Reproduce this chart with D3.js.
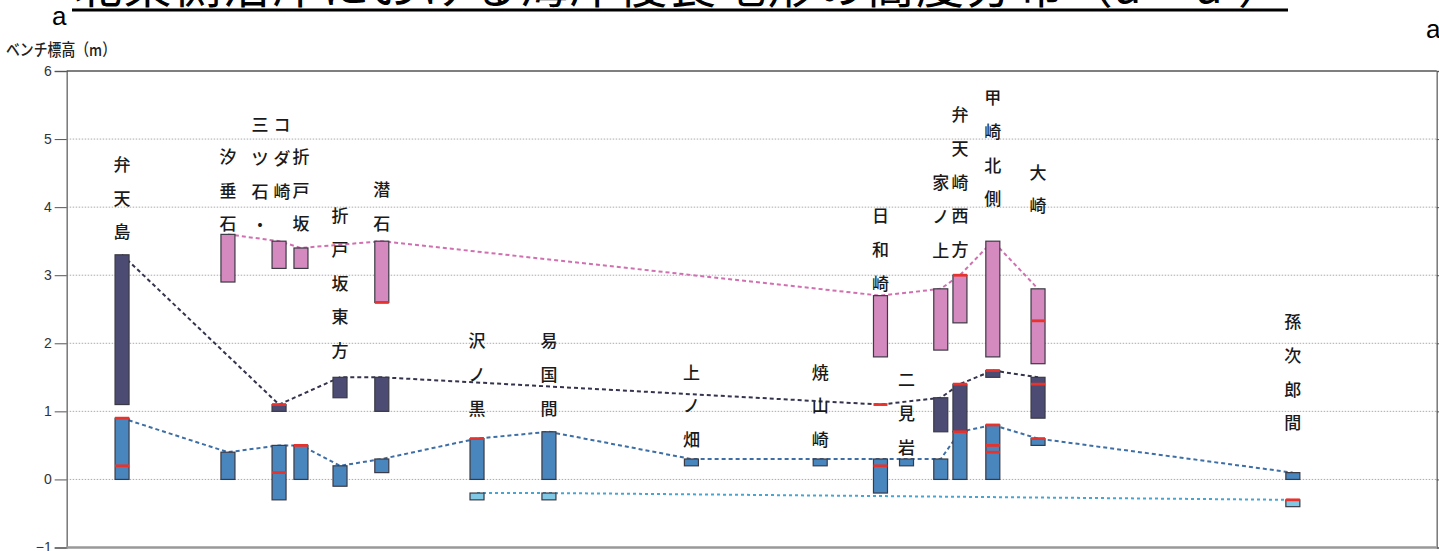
<!DOCTYPE html>
<html>
<head>
<meta charset="utf-8">
<script src="https://cdn.jsdelivr.net/npm/d3@7"></script>
<style>
  body { margin: 0; background: #fff; overflow: hidden; }
  svg { display: block; }
</style>
</head>
<body>
<div id="chart"></div>
<script>
// sites along the coast (relative position 0-100)
const sites = ["弁天島", "汐垂石", "三ツ石・コダ崎", "折戸坂", "折戸坂東方", "潜石", "沢ノ黒", "易国間", "上ノ畑",
    "焼山崎", "日和崎", "二見岩", "家ノ上", "弁天崎西方", "甲崎北側", "大崎", "孫次郎間"];
const sitePos = [4.04, 11.77, 15.5, 17.1, 19.95, 23.0, 29.95, 35.2, 45.6, 55.0, 59.4, 61.3, 63.8, 65.2, 67.6, 70.9, 89.5];

// vertical label columns and the elevation of the first character
const labelCols = [["弁天島"], ["汐垂石"], ["三ツ石・", "コダ崎"], ["折戸坂"], ["折戸坂東方"], ["潜石"], ["沢ノ黒"], ["易国間"],
    ["上ノ畑"], ["焼山崎"], ["日和崎"], ["二見岩"], ["家ノ上"], ["弁天崎西方"], ["甲崎北側"], ["大崎"], ["孫次郎間"]];
const labelTop = [4.62, 4.74, 5.21, 4.74, 3.87, 4.25, 2.03, 2.03, 1.57, 1.57, 3.87, 1.46, 4.35, 5.35, 5.6, 4.51, 2.31];

// bench elevation ranges (m), top / bottom per site
const pinkTop    = [null, 3.6, 3.5, 3.4, null, 3.5, null, null, null, null, 2.7, null, 2.8, 3.0, 3.5, 2.8, null];
const pinkBottom = [null, 2.9, 3.1, 3.1, null, 2.6, null, null, null, null, 1.8, null, 1.9, 2.3, 1.8, 1.7, null];
const darkTop    = [3.3, null, 1.1, null, 1.5, 1.5, null, null, null, null, 1.1, null, 1.2, 1.4, 1.6, 1.5, null];
const darkBottom = [1.1, null, 1.0, null, 1.2, 1.0, null, null, null, null, 1.1, null, 0.7, 0.7, 1.5, 0.9, null];
const blueTop    = [0.9, 0.4, 0.5, 0.5, 0.2, 0.3, 0.6, 0.7, 0.3, 0.3, 0.3, 0.3, 0.3, 0.7, 0.8, 0.6, 0.1];
const blueBottom = [0, 0, -0.3, 0, -0.1, 0.1, 0, 0, 0.2, 0.2, -0.2, 0.2, 0, 0, 0, 0.5, 0];
const lightTop    = [null, null, null, null, null, null, -0.2, -0.2, null, null, null, null, null, null, null, null, -0.3];
const lightBottom = [null, null, null, null, null, null, -0.3, -0.3, null, null, null, null, null, null, null, null, -0.4];

// red marks (m)
const redMarks = [[0.9, 0.2], [], [1.1, 0.1], [0.5], [], [2.6], [0.6], [], [], [], [1.1, 0.2], [], [],
    [3.0, 1.4, 0.7], [1.6, 0.8, 0.5, 0.4], [2.33, 1.4, 0.6], [-0.3]];

const yTicks = [-1, 0, 1, 2, 3, 4, 5, 6];

const W = 1439, H = 551;
const margin = { top: 71, right: 2.3, bottom: 3.5, left: 66.7 };
const jp = "'Noto Sans CJK JP', 'Noto Sans', sans-serif";

const svg = d3.select("#chart").append("svg")
    .attr("width", W)
    .attr("height", H);

const x = d3.scaleLinear().domain([0, 100]).range([margin.left, W - margin.right]);
const y = d3.scaleLinear().domain([-1, 6]).range([H - margin.bottom, margin.top]);

// title (cut off at the top edge)
svg.append("text")
    .attr("x", 74)
    .attr("y", 3)
    .attr("font-family", jp)
    .attr("font-size", 48)
    .attr("textLength", 1212)
    .attr("lengthAdjust", "spacing")
    .attr("fill", "#000")
    .text("北東側沿岸における海岸侵食地形の高度分布（a − a’）");
svg.append("line")
    .attr("x1", 72).attr("x2", 1288)
    .attr("y1", 10).attr("y2", 10)
    .attr("stroke", "#000")
    .attr("stroke-width", 3);

svg.append("text")
    .attr("x", 52).attr("y", 25)
    .attr("font-family", "'Liberation Sans', Arial, sans-serif")
    .attr("font-size", 26)
    .text("a");
svg.append("text")
    .attr("x", 1426).attr("y", 38)
    .attr("font-family", "'Liberation Sans', Arial, sans-serif")
    .attr("font-size", 26)
    .text("a");

svg.append("text")
    .attr("x", 6).attr("y", 56)
    .attr("font-family", jp)
    .attr("font-size", 16.5)
    .attr("font-weight", 500)
    .attr("textLength", 110)
    .attr("lengthAdjust", "spacingAndGlyphs")
    .attr("fill", "#222")
    .text("ベンチ標高（m）");

// gridlines
svg.append("g")
    .selectAll("line")
    .data(yTicks.filter(d => d >= 0 && d <= 5))
    .join("line")
    .attr("x1", x(0)).attr("x2", x(100))
    .attr("y1", d => y(d)).attr("y2", d => y(d))
    .attr("stroke", "#aaa")
    .attr("stroke-width", 1)
    .attr("stroke-dasharray", "1.5,1.5");

// left axis
const yAxis = svg.append("g")
    .attr("transform", `translate(${x(0)},0)`)
    .call(d3.axisLeft(y).tickValues(yTicks).tickSize(12).tickFormat(d => d < 0 ? "−" + Math.abs(d) : d));
yAxis.select(".domain").attr("stroke", "#777").attr("stroke-width", 1.5);
yAxis.selectAll(".tick line").attr("stroke", "#555");
yAxis.selectAll(".tick text")
    .attr("font-family", "'Liberation Sans', Arial, sans-serif")
    .attr("font-size", 14)
    .attr("fill", "#333")
    .attr("x", -15);

// right axis
const yAxisR = svg.append("g")
    .attr("transform", `translate(${x(100)},0)`)
    .call(d3.axisRight(y).tickValues(yTicks).tickSize(6).tickFormat(""));
yAxisR.select(".domain").attr("stroke", "#777").attr("stroke-width", 1.5);
yAxisR.selectAll(".tick line").attr("stroke", "#555");

// top and bottom frame
svg.append("line")
    .attr("x1", x(0)).attr("x2", x(100))
    .attr("y1", y(6)).attr("y2", y(6))
    .attr("stroke", "#555").attr("stroke-width", 1.5);
svg.append("line")
    .attr("x1", x(0)).attr("x2", x(100))
    .attr("y1", y(-1)).attr("y2", y(-1))
    .attr("stroke", "#999").attr("stroke-width", 2.5);

const series = [
    { top: pinkTop, bottom: pinkBottom, fill: "#d48abe", line: "#d070b0", dash: "4,3" },
    { top: darkTop, bottom: darkBottom, fill: "#4b4b74", line: "#34344e", dash: "4,3" },
    { top: blueTop, bottom: blueBottom, fill: "#4a86be", line: "#3d6fa6", dash: "4,3" },
    { top: lightTop, bottom: lightBottom, fill: "#80c8e4", line: "#45a6d4", dash: "3,3" }
];

const barW = 14;

// connecting dashed lines (behind bars)
series.forEach(s => {
    const pts = sites.map((d, i) => [sitePos[i], s.top[i]]).filter(p => p[1] !== null);
    svg.append("path")
        .attr("d", d3.line().x(p => x(p[0])).y(p => y(p[1]))(pts))
        .attr("fill", "none")
        .attr("stroke", s.line)
        .attr("stroke-width", 2)
        .attr("stroke-dasharray", s.dash);
});

// bars
series.forEach(s => {
    const rows = sites.map((d, i) => ({ i, t: s.top[i], b: s.bottom[i] }))
        .filter(r => r.t !== null && r.t > r.b);
    svg.append("g")
        .selectAll("rect")
        .data(rows)
        .join("rect")
        .attr("x", r => x(sitePos[r.i]) - barW / 2)
        .attr("width", barW)
        .attr("y", r => y(r.t))
        .attr("height", r => y(r.b) - y(r.t))
        .attr("fill", s.fill)
        .attr("stroke", "#3a3a44")
        .attr("stroke-width", 1.2);
});

// red marks
const marks = redMarks.flatMap((vals, i) => vals.map(v => ({ i, v })));
svg.append("g")
    .selectAll("line")
    .data(marks)
    .join("line")
    .attr("x1", d => x(sitePos[d.i]) - barW / 2)
    .attr("x2", d => x(sitePos[d.i]) + barW / 2)
    .attr("y1", d => y(d.v)).attr("y2", d => y(d.v))
    .attr("stroke", "#e8322c")
    .attr("stroke-width", 2.8);

// vertical site labels
const lineStep = 33.7;
const colStep = 22;
const labelG = svg.append("g")
    .attr("font-family", jp)
    .attr("font-size", 17)
    .attr("font-weight", 500)
    .attr("fill", "#1a1a1a")
    .attr("text-anchor", "middle");

labelCols.forEach((cols, i) => {
    const cx = x(sitePos[i]) + (cols.length > 1 ? 3 : 0);
    cols.forEach((col, c) => {
        const colX = cx - (cols.length - 1 - c) * colStep;
        Array.from(col).forEach((ch, k) => {
            labelG.append("text")
                .attr("x", colX)
                .attr("y", y(labelTop[i]) + k * lineStep)
                .attr("dy", "0.36em")
                .text(ch);
        });
    });
});
</script>
</body>
</html>
